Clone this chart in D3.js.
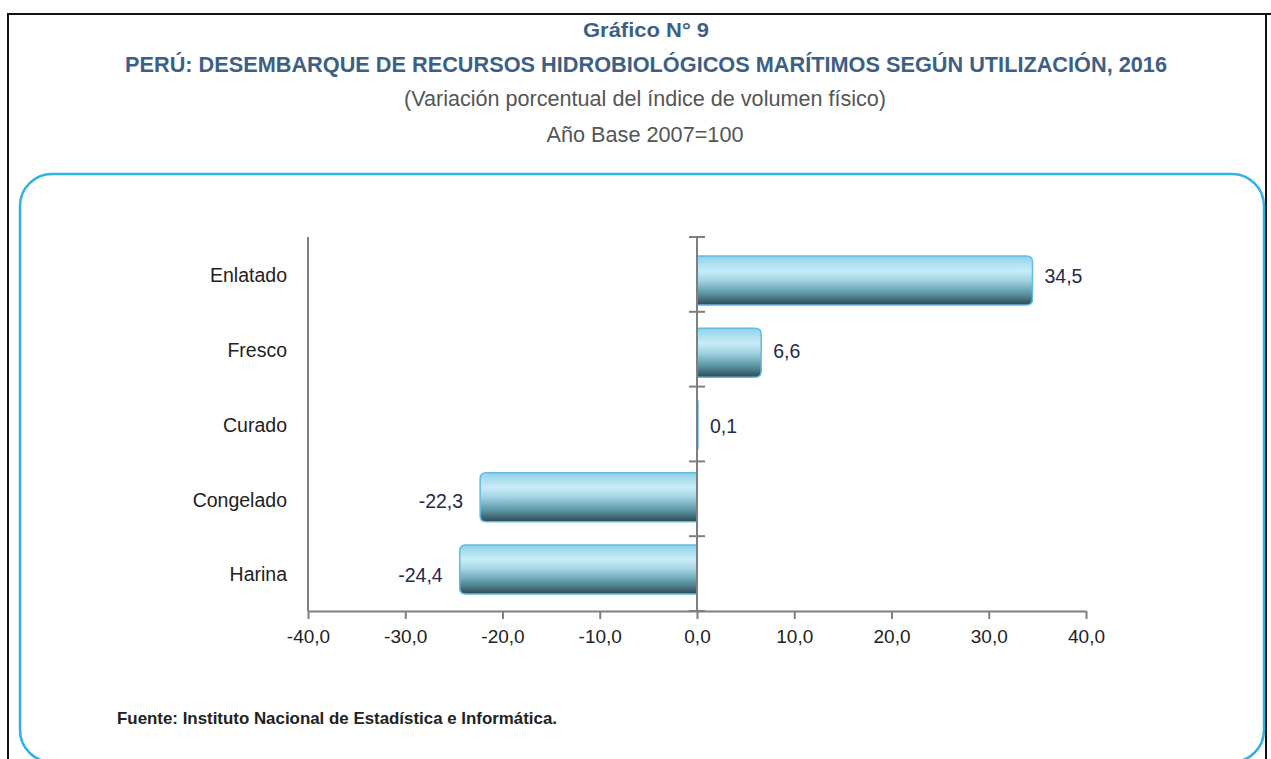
<!DOCTYPE html>
<html>
<head>
<meta charset="utf-8">
<script src="https://cdn.jsdelivr.net/npm/d3@7"></script>
<style>
  body { margin: 0; background: white; }
  svg { display: block; }
  text { font-family: "Liberation Sans Narrow", "Arial Narrow", "Liberation Sans", sans-serif; }
</style>
</head>
<body>
<svg id="chart" width="1271" height="759"></svg>
<script>
const categories = ["Enlatado", "Fresco", "Curado", "Congelado", "Harina"];
const values = [34.5, 6.6, 0.1, -22.3, -24.4];
const xTicks = [-40, -30, -20, -10, 0, 10, 20, 30, 40];

const titleLines = [
  "Gráfico N° 9",
  "PERÚ: DESEMBARQUE DE RECURSOS HIDROBIOLÓGICOS MARÍTIMOS SEGÚN UTILIZACIÓN, 2016"
];
const subtitleLines = ["(Variación porcentual del índice de volumen físico)", "Año Base 2007=100"];
const source = "Fuente: Instituto Nacional de Estadística e Informática.";

// comma decimals, plain hyphen for negatives
const locale = d3.formatLocale({decimal: ",", thousands: ".", grouping: [3], currency: ["", ""], minus: "-"});
const fmt = locale.format(".1f");

const svg = d3.select("#chart");

// page frame
svg.append("path")
  .attr("d", "M8,759 V14 H1271")
  .attr("fill", "none").attr("stroke", "#111").attr("stroke-width", 2);
svg.append("line")
  .attr("x1", 1266).attr("x2", 1266).attr("y1", 14).attr("y2", 759)
  .attr("stroke", "#111").attr("stroke-width", 2);

// rounded blue panel
svg.append("rect")
  .attr("x", 20).attr("y", 174).attr("width", 1244).attr("height", 588)
  .attr("rx", 32).attr("ry", 32)
  .attr("fill", "none").attr("stroke", "#2fb0e6").attr("stroke-width", 2.5);

// titles
svg.append("text").attr("x", 646).attr("y", 37).attr("text-anchor", "middle")
  .style("font-size", "21px").style("font-weight", "bold").attr("fill", "#3d5f86")
  .attr("textLength", 126).attr("lengthAdjust", "spacingAndGlyphs")
  .text(titleLines[0]);
svg.append("text").attr("x", 646).attr("y", 72).attr("text-anchor", "middle")
  .style("font-size", "22px").style("font-weight", "bold").attr("fill", "#3d5f86")
  .attr("textLength", 1042).attr("lengthAdjust", "spacingAndGlyphs")
  .text(titleLines[1]);
svg.append("text").attr("x", 645).attr("y", 106).attr("text-anchor", "middle")
  .style("font-size", "22px").attr("fill", "#555")
  .attr("textLength", 482).attr("lengthAdjust", "spacingAndGlyphs")
  .text(subtitleLines[0]);
svg.append("text").attr("x", 645).attr("y", 142).attr("text-anchor", "middle")
  .style("font-size", "22px").attr("fill", "#555")
  .attr("textLength", 197).attr("lengthAdjust", "spacingAndGlyphs")
  .text(subtitleLines[1]);

// scales
const x = d3.scaleLinear().domain([-40, 40]).range([308, 1086]);
// category band (ticks and labels)
const band = d3.scaleBand().domain(categories).range([237, 611]);
// bars sit on a slightly tighter spacing than the tick bands
const y = d3.scaleBand().domain(categories).range([244.4, 605.6]).paddingInner(0.322).paddingOuter(0.161);

// gradient for bars
const defs = svg.append("defs");
const grad = defs.append("linearGradient").attr("id", "barGrad")
  .attr("x1", 0).attr("y1", 0).attr("x2", 0).attr("y2", 1);
[[0, "#8fd2e8"], [0.3, "#c8ecf7"], [0.5, "#a3d3e2"], [0.75, "#5f9aaa"], [1, "#2c4a52"]]
  .forEach(s => grad.append("stop").attr("offset", s[0]).attr("stop-color", s[1]));

// axes
const axisColor = "#7f7f7f";
svg.append("line").attr("x1", 308).attr("x2", 308).attr("y1", 237).attr("y2", 611)
  .attr("stroke", axisColor).attr("stroke-width", 2);

const xAxis = svg.append("g").attr("transform", "translate(0,611)")
  .call(d3.axisBottom(x).tickValues(xTicks).tickFormat(fmt).tickSize(8).tickSizeOuter(0));
xAxis.select(".domain").attr("stroke", axisColor).attr("stroke-width", 2);
xAxis.selectAll(".tick line").attr("stroke", axisColor).attr("stroke-width", 2);
xAxis.selectAll(".tick text").attr("dy", "1.1em").attr("y", 11)
  .style("font-size", "19px").attr("fill", "#222")
  .style("font-family", "'Liberation Sans Narrow', 'Arial Narrow', 'Liberation Sans', sans-serif");

// category labels
svg.append("g").selectAll("text").data(categories).enter().append("text")
  .attr("x", 287).attr("y", d => band(d) + band.bandwidth() / 2 + 1)
  .attr("dy", "0.35em").attr("text-anchor", "end")
  .style("font-size", "19.5px").attr("fill", "#222")
  .text(d => d);

// bars with rounded far end
function barPath(v, cat) {
  const x0 = x(0), x1 = x(v), y0 = y(cat), h = y.bandwidth();
  const dir = v >= 0 ? 1 : -1;
  const r = Math.min(6, Math.abs(x1 - x0));
  return `M${x0},${y0} H${x1 - dir * r} Q${x1},${y0} ${x1},${y0 + r} V${y0 + h - r} Q${x1},${y0 + h} ${x1 - dir * r},${y0 + h} H${x0} Z`;
}
const data = categories.map((c, i) => ({cat: c, v: values[i]}));
svg.append("g").selectAll("path").data(data).enter().append("path")
  .attr("d", d => barPath(d.v, d.cat))
  .attr("fill", "url(#barGrad)")
  .attr("stroke", "#62bbe0").attr("stroke-width", 1.5);

// zero axis with category ticks
svg.append("line").attr("x1", x(0)).attr("x2", x(0)).attr("y1", 237).attr("y2", 611)
  .attr("stroke", axisColor).attr("stroke-width", 2);
svg.append("g").selectAll("line").data(categories.concat(["end"])).enter().append("line")
  .attr("x1", x(0) - 8).attr("x2", x(0) + 8)
  .attr("y1", (d, i) => 237 + i * band.step()).attr("y2", (d, i) => 237 + i * band.step())
  .attr("stroke", axisColor).attr("stroke-width", 2);

// value labels
svg.append("g").selectAll("text").data(data).enter().append("text")
  .attr("x", d => d.v >= 0 ? x(d.v) + 12 : x(d.v) - 17)
  .attr("y", d => band(d.cat) + band.bandwidth() / 2 + 2)
  .attr("dy", "0.35em")
  .attr("text-anchor", d => d.v >= 0 ? "start" : "end")
  .style("font-size", "19.5px").attr("fill", "#1f2a4f")
  .text(d => fmt(d.v));

// source
svg.append("text").attr("x", 117).attr("y", 724)
  .style("font-size", "16.5px").style("font-weight", "bold").attr("fill", "#222")
  .attr("textLength", 440).attr("lengthAdjust", "spacingAndGlyphs")
  .text(source);
</script>
</body>
</html>
